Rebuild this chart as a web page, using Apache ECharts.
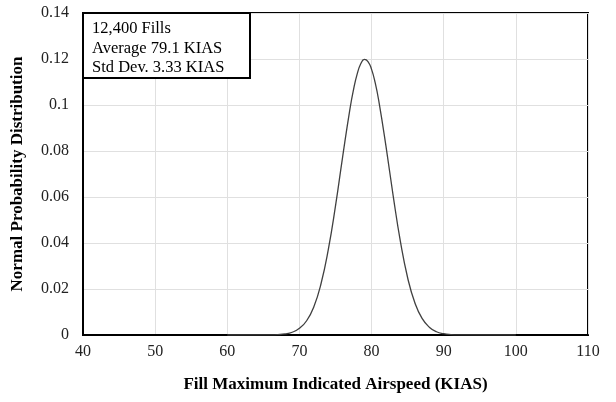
<!DOCTYPE html>
<html>
<head>
<meta charset="utf-8">
<script src="https://cdn.jsdelivr.net/npm/echarts@6/dist/echarts.min.js"></script>
<style>
  html, body { margin: 0; padding: 0; background: #fff; }
  #chart { width: 616px; height: 402px; }
</style>
</head>
<body>
<div id="chart"></div>
<script>
// airspeed (KIAS) and normal probability values
const speeds = [60, 66, 67, 68, 69, 70, 71, 72, 73, 74, 75, 76, 77, 77.5, 78, 78.5, 79, 79.5,
  80, 80.5, 81, 82, 83, 84, 85, 86, 87, 88, 89, 90, 91, 92, 100];
const probs = [0, 0.00005, 0.00016, 0.00046, 0.0012, 0.0029, 0.0062, 0.0123, 0.0224, 0.0371,
  0.0561, 0.0777, 0.0982, 0.1067, 0.1134, 0.1179, 0.1198, 0.1189,
  0.1155, 0.1097, 0.1018, 0.0820, 0.0604, 0.0406, 0.0249, 0.0140, 0.0072, 0.0034, 0.0014,
  0.00057, 0.0002, 0.00007, 0];
const statsLines = ['12,400 Fills', 'Average 79.1 KIAS', 'Std Dev. 3.33 KIAS'];

const font = '"Liberation Serif", "Times New Roman", serif';

let chart = echarts.init(document.getElementById('chart'));
chart.setOption({
  animation: false,
  textStyle: { fontFamily: font },
  title: {
    text: statsLines.join('\n'),
    left: 83,
    top: 13,
    padding: [6, 8, 1, 9],
    backgroundColor: '#fff',
    borderColor: '#000',
    borderWidth: 2,
    textStyle: {
      fontFamily: font,
      fontSize: 16.5,
      fontWeight: 'normal',
      color: '#000',
      lineHeight: 19.5,
      width: 150
    }
  },
  grid: {
    left: 83,
    right: 28,
    top: 13,
    bottom: 67,
    show: true,
    borderColor: '#000',
    borderWidth: 2
  },
  xAxis: {
    type: 'value',
    min: 40,
    max: 110,
    interval: 10,
    name: 'Fill Maximum Indicated Airspeed (KIAS)',
    nameLocation: 'middle',
    nameGap: 41,
    nameTextStyle: { fontFamily: font, fontSize: 17, fontWeight: 'bold', color: '#000' },
    axisLine: { show: true, lineStyle: { color: '#000', width: 2 } },
    axisTick: { show: false },
    axisLabel: { fontFamily: font, fontSize: 16, color: '#222', margin: 9 },
    splitLine: { show: true, lineStyle: { color: '#e0e0e0', width: 1 } }
  },
  yAxis: {
    type: 'value',
    min: 0,
    max: 0.14,
    interval: 0.02,
    name: 'Normal Probability Distribution',
    nameLocation: 'middle',
    nameGap: 57,
    nameTextStyle: { fontFamily: font, fontSize: 17, fontWeight: 'bold', color: '#000' },
    axisLine: { show: true, lineStyle: { color: '#000', width: 2 } },
    axisTick: { show: false },
    axisLabel: { fontFamily: font, fontSize: 16, color: '#222', margin: 14 },
    splitLine: { show: true, lineStyle: { color: '#e0e0e0', width: 1 } }
  },
  series: [
    {
      type: 'line',
      data: speeds.map((s, i) => [s, probs[i]]),
      smooth: true,
      showSymbol: false,
      lineStyle: { color: '#404040', width: 1.3 },
      z: 1
    }
  ]
});
</script>
</body>
</html>
